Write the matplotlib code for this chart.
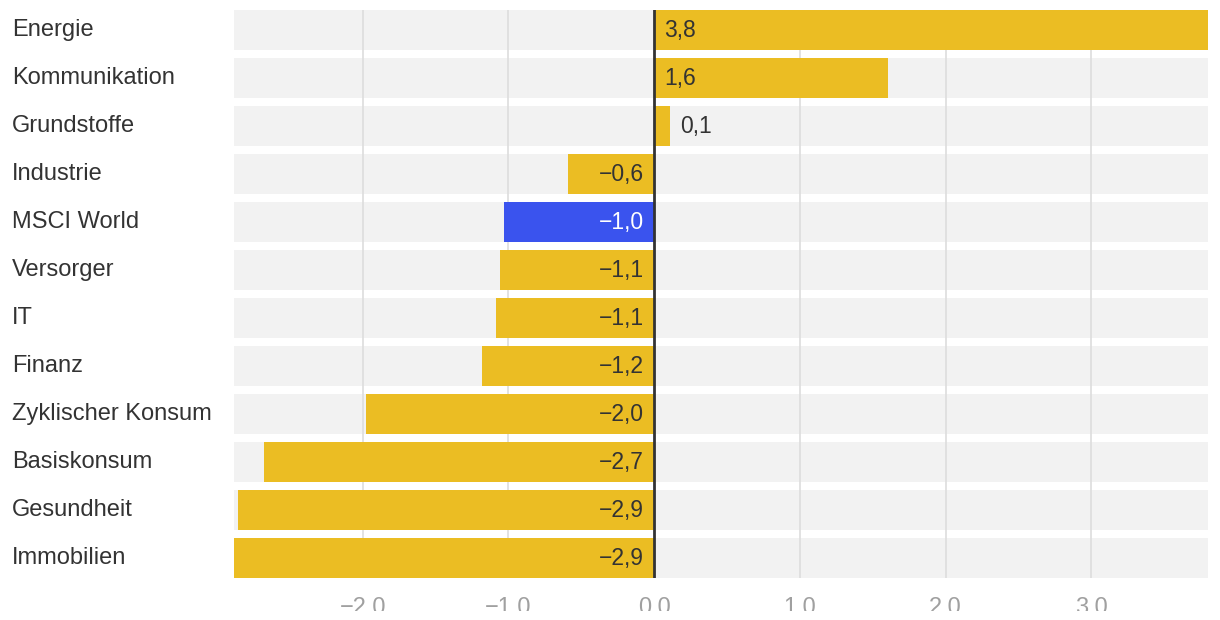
import matplotlib.pyplot as plt
from matplotlib.patches import Rectangle
from matplotlib.transforms import blended_transform_factory, offset_copy

plt.rcParams['font.family'] = ['Liberation Sans', 'DejaVu Sans']

# data
categories = ['Energie', 'Kommunikation', 'Grundstoffe', 'Industrie', 'MSCI World',
              'Versorger', 'IT', 'Finanz', 'Zyklischer Konsum', 'Basiskonsum',
              'Gesundheit', 'Immobilien']
values = [3.80, 1.606, 0.11, -0.59, -1.03, -1.057, -1.084, -1.18, -1.977, -2.677,
          -2.855, -2.883]
highlight = 'MSCI World'
xticks = [-2.0, -1.0, 0.0, 1.0, 2.0, 3.0]

yellow = '#EBBD23'
blue = '#3A53EE'
text_col = '#333333'

fig = plt.figure(figsize=(12.2, 6.2), dpi=100)
ax = fig.add_axes([234 / 1220, 42 / 620, 974 / 1220, 568 / 620])

n = len(categories)
h = 40 / 48
xmin, xmax = min(values), max(values)
ax.set_xlim(xmin, xmax)
ax.set_ylim(n - 1 + h / 2, -h / 2)

# background bands
ax.barh(range(n), [xmax - xmin] * n, left=xmin, height=h, color='#F2F2F2', zorder=0)

# grid
for t in xticks:
    if t != 0:
        ax.axvline(t, color='#DDDDDD', lw=1.2, zorder=1)

colors = [blue if c == highlight else yellow for c in categories]
ax.barh(range(n), values, height=h, color=colors, zorder=2)
ax.axvline(0, color='#333333', lw=2, zorder=3)

for i, (c, v) in enumerate(zip(categories, values)):
    lab = f'{v:.1f}'.replace('.', ',').replace('-', '\u2212')
    tc = 'white' if c == highlight else text_col
    if v >= 0:
        # small bars get the label outside
        start = v if v < 0.3 else 0
        tr = offset_copy(ax.transData, fig=fig, x=10 * 72 / 100, y=0, units='points')
        ax.text(start, i, lab, transform=tr, ha='left', va='center', fontsize=16.5,
                color=text_col if start else tc, zorder=4)
    else:
        tr = offset_copy(ax.transData, fig=fig, x=-10 * 72 / 100, y=0, units='points')
        ax.text(0, i, lab, transform=tr, ha='right', va='center', fontsize=16.5,
                color=tc, zorder=4)

# category names at the left edge of the figure
bt = blended_transform_factory(fig.transFigure, ax.transData)
for i, c in enumerate(categories):
    ax.text(12 / 1220, i, c, transform=bt, ha='left', va='center', fontsize=17,
            color=text_col)

ax.set_xticks(xticks)
ax.set_xticklabels([f'{t:.1f}'.replace('-', '\u2212') for t in xticks])
ax.tick_params(axis='x', length=0, pad=14, labelsize=17, labelcolor='#A0A0A0')
ax.set_yticks([])
for s in ax.spines.values():
    s.set_visible(False)

# the original chart is cut off just below the tick labels
fig.add_artist(Rectangle((0, 0), 1, 9 / 620, transform=fig.transFigure,
                         facecolor='white', edgecolor='none', zorder=10))

fig.savefig('out.png', dpi=100)
